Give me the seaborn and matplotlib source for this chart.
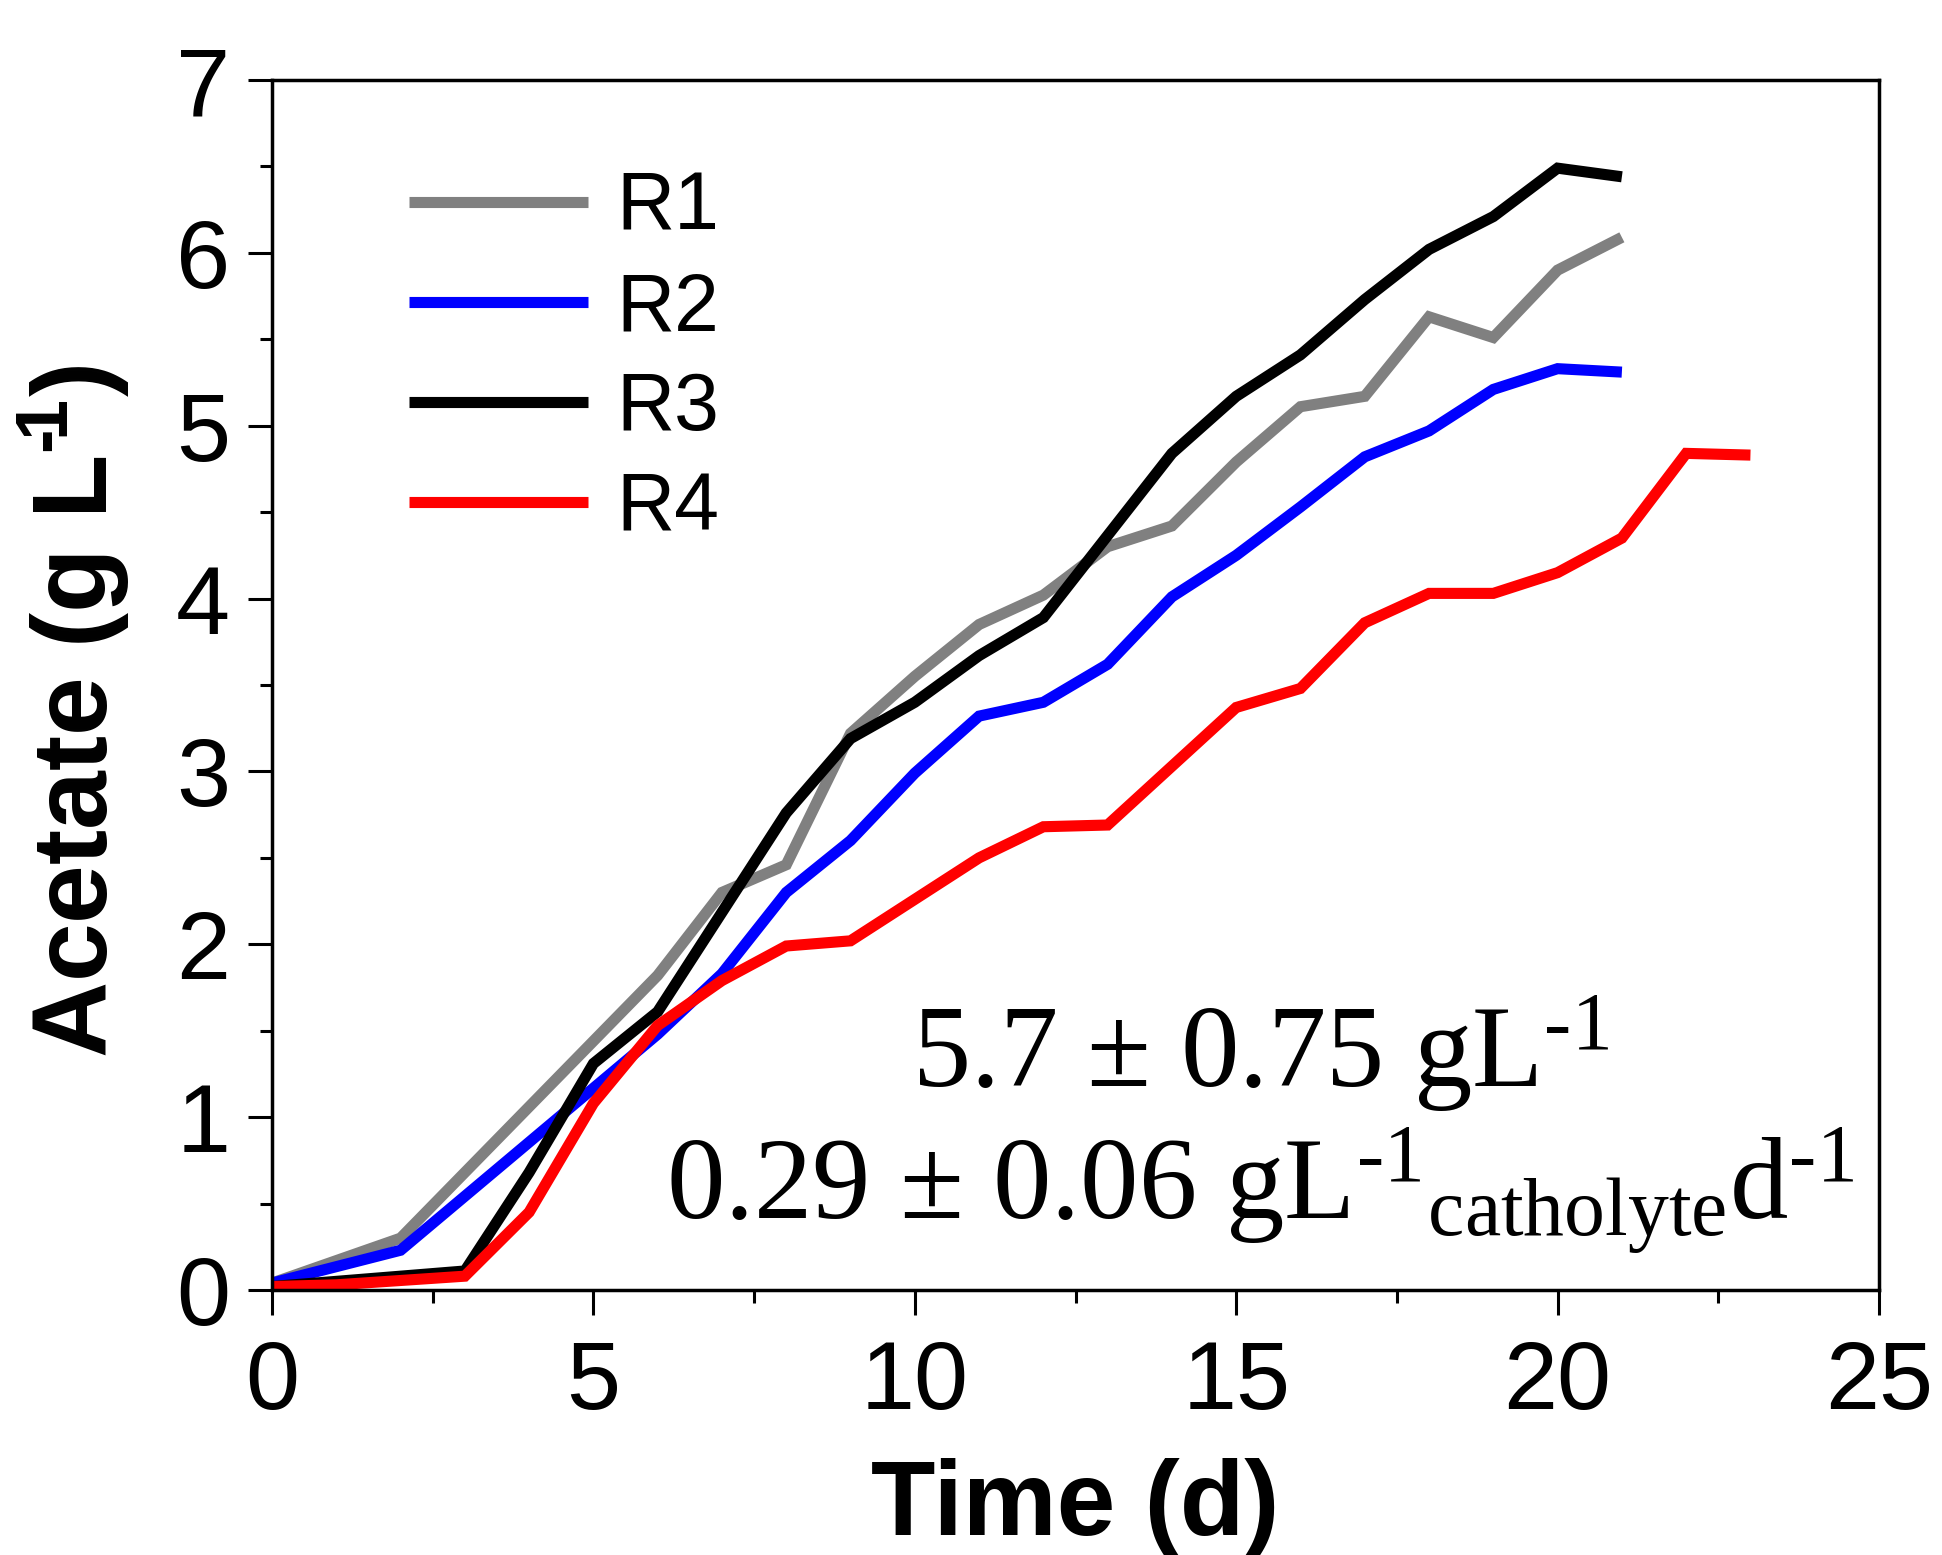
import pandas as pd
import seaborn as sns
import matplotlib.pyplot as plt
from matplotlib.ticker import MultipleLocator

# acetate concentration (g/L) per reactor
r1_day = [0, 2, 6, 7, 8, 9, 10, 11, 12, 13, 14, 15, 16, 17, 18, 19, 20, 21]
r1_acetate = [0.04, 0.30, 1.82, 2.30, 2.46, 3.22, 3.55, 3.85, 4.02, 4.30,
              4.42, 4.79, 5.11, 5.17, 5.63, 5.51, 5.90, 6.09]

r2_day = [0, 2, 6, 7, 8, 9, 10, 11, 12, 13, 14, 15, 16, 17, 18, 19, 20, 21]
r2_acetate = [0.04, 0.23, 1.48, 1.83, 2.30, 2.60, 2.99, 3.32, 3.40, 3.62,
              4.01, 4.25, 4.53, 4.82, 4.97, 5.21, 5.33, 5.31]

r3_day = [0, 3, 4, 5, 6, 8, 9, 10, 11, 12, 14, 15, 16, 17, 18, 19, 20, 21]
r3_acetate = [0.02, 0.11, 0.68, 1.31, 1.61, 2.76, 3.19, 3.40, 3.67, 3.89,
              4.84, 5.17, 5.41, 5.73, 6.02, 6.21, 6.49, 6.44]

r4_day = [0, 1, 3, 4, 5, 6, 7, 8, 9, 11, 12, 13, 15, 16, 17, 18, 19, 20,
          21, 22, 23]
r4_acetate = [0.02, 0.03, 0.08, 0.45, 1.08, 1.53, 1.79, 1.99, 2.02, 2.50,
              2.68, 2.69, 3.37, 3.48, 3.86, 4.03, 4.03, 4.15, 4.35, 4.84, 4.83]

reactors = ["R1", "R2", "R3", "R4"]
colors = {"R1": "#808080", "R2": "#0000FF", "R3": "#000000", "R4": "#FF0000"}

frames = []
for name, days, values in zip(reactors,
                              [r1_day, r2_day, r3_day, r4_day],
                              [r1_acetate, r2_acetate, r3_acetate, r4_acetate]):
    frames.append(pd.DataFrame({"day": days, "acetate": values, "reactor": name}))
df = pd.concat(frames, ignore_index=True)

sns.set_style("white")
plt.rcParams["font.family"] = ["Liberation Sans", "DejaVu Sans"]
plt.rcParams["mathtext.default"] = "regular"
for key in ["text.color", "axes.labelcolor", "xtick.color", "ytick.color"]:
    plt.rcParams[key] = "black"

W, H = 1942, 1555
fig = plt.figure(figsize=(W / 100, H / 100), dpi=100)
ax = fig.add_axes([272 / W, 1 - 1290 / H, (1879 - 272) / W, (1290 - 80) / H])

sns.lineplot(data=df, x="day", y="acetate", hue="reactor", palette=colors,
             hue_order=reactors, linewidth=8, sort=False, estimator=None,
             legend=False, ax=ax, solid_capstyle="butt", solid_joinstyle="miter")

ax.set_xlim(0, 25)
ax.set_ylim(0, 7)
ax.xaxis.set_major_locator(MultipleLocator(5))
ax.xaxis.set_minor_locator(MultipleLocator(2.5))
ax.yaxis.set_major_locator(MultipleLocator(1))
ax.yaxis.set_minor_locator(MultipleLocator(0.5))

for side in ["top", "right", "bottom", "left"]:
    ax.spines[side].set_visible(True)
    ax.spines[side].set_color("black")
    ax.spines[side].set_linewidth(2.5)

ax.tick_params(axis="x", which="major", direction="out", length=18, width=2.2,
               pad=17, labelsize=70, bottom=True, top=False)
ax.tick_params(axis="x", which="minor", direction="out", length=9, width=2.2,
               bottom=True, top=False)
ax.tick_params(axis="y", which="major", direction="out", length=17, width=2.2,
               pad=13, labelsize=70, left=True, right=False)
ax.tick_params(axis="y", which="minor", direction="out", length=8.5, width=2.2,
               left=True, right=False)

ax.set_xlabel("Time (d)", fontsize=76, fontweight="bold")
ax.set_ylabel("Acetate (g L$^{\u2010\\!1}$)", fontsize=76, fontweight="bold")
ax.xaxis.set_label_coords(0.5, -0.139)
ax.yaxis.set_label_coords(-0.087, 0.478)

ax.legend(ax.lines[:4], reactors, loc="upper left",
          bbox_to_anchor=(409 / W, 1 - 171 / H), bbox_transform=fig.transFigure,
          frameon=False, fontsize=58, handlelength=2.22, handletextpad=0.36,
          labelspacing=0.3, borderpad=0, borderaxespad=0)

serif = ["Liberation Serif", "DejaVu Serif"]
ax.text(0.615, 0.168, "5.7 ± 0.75 gL$^{\u20101}$", transform=ax.transAxes,
        ha="center", va="baseline", fontsize=84, family=serif)
ax.text(0.615, 0.058, "0.29 ± 0.06 gL$^{\u20101}$$_{catholyte}$d$^{\u20101}$",
        transform=ax.transAxes, ha="center", va="baseline", fontsize=84,
        family=serif)

fig.savefig("out.png", dpi=100, facecolor="white")
